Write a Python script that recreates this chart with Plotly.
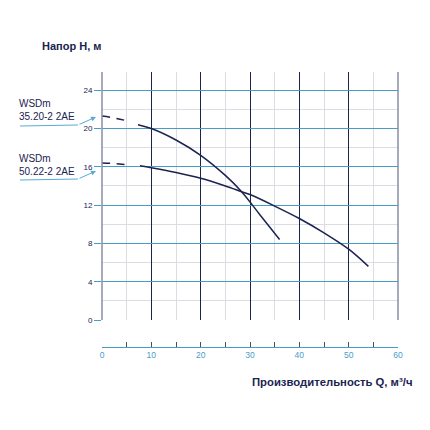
import plotly.graph_objects as go

# WSDm 35.20-2 2AE
q1_dash = [0, 2, 5.5]
h1_dash = [21.3, 21.15, 20.75]
q1 = [7.3, 10, 15, 20, 25, 28.3, 32, 36]
h1 = [20.4, 20.0, 18.8, 17.2, 15.1, 13.4, 11.0, 8.4]

# WSDm 50.22-2 2AE
q2_dash = [0, 2, 5.5]
h2_dash = [16.4, 16.35, 16.2]
q2 = [7.7, 10, 15, 20, 25, 28.3, 30, 35, 40, 45, 50, 54]
h2 = [16.1, 15.9, 15.4, 14.8, 14.0, 13.4, 13.1, 11.9, 10.6, 9.1, 7.4, 5.6]

x_ticks = [0, 5, 10, 15, 20, 25, 30, 35, 40, 45, 50, 55, 60]
x_labels = ["0", "", "10", "", "20", "", "30", "", "40", "", "50", "", "60"]
y_ticks = [0, 4, 8, 12, 16, 20, 24]

navy = "#1b2350"
blue = "#4a9cc8"
light = "#dcdce4"
arrow_blue = "#5aaad8"
font = "Liberation Sans"

fig = go.Figure()
for xs, ys, dash in [(q1_dash, h1_dash, "8px,7px"), (q1, h1, "solid"),
                     (q2_dash, h2_dash, "8px,7px"), (q2, h2, "solid")]:
    fig.add_trace(go.Scatter(x=xs, y=ys, mode="lines", line=dict(color=navy, width=1.5, dash=dash, shape="spline"),
                             showlegend=False, hoverinfo="skip"))

# invisible trace for lower axis
fig.add_trace(go.Scatter(x=[0, 60], y=[0, 0], xaxis="x2", mode="lines", line=dict(width=0),
                         showlegend=False, hoverinfo="skip"))

# page body has an 8px margin, so the figure is shifted by 8px
fig.update_layout(
    width=422, height=422,
    margin=dict(l=94, r=32, t=64, b=83),
    plot_bgcolor="white", paper_bgcolor="white",
    font=dict(family=font, color=navy),
    xaxis=dict(range=[0, 60], dtick=10, showticklabels=False, ticks="", zeroline=False,
               showgrid=True, gridcolor=navy, gridwidth=1.2,
               minor=dict(dtick=5, showgrid=True, gridcolor=light, gridwidth=1),
               showline=False, anchor="y"),
    yaxis=dict(domain=[27 / 275, 1], range=[0, 25.9], tickvals=y_ticks, zeroline=False,
               showgrid=True, gridcolor=blue, gridwidth=1.2,
               minor=dict(dtick=2, showgrid=True, gridcolor=light, gridwidth=1),
               ticks="outside", ticklen=7, tickcolor=blue, tickwidth=1,
               tickfont=dict(size=8, color=navy), showline=False),
    xaxis2=dict(range=[0, 60], anchor="free", position=0, overlaying="x",
                tickvals=x_ticks, ticktext=x_labels, ticks="inside", ticklen=5,
                tickcolor="#4a4e60", tickwidth=1, showgrid=False, zeroline=False,
                showline=True, linecolor=blue, linewidth=1.2,
                tickfont=dict(size=8.5, color=blue), side="bottom"),
    shapes=[
        dict(type="line", xref="paper", yref="paper", x0=0, x1=0, y0=27 / 275, y1=1,
             line=dict(color="#8a8ea4", width=1.5)),
        dict(type="line", xref="paper", yref="paper", x0=1, x1=1, y0=27 / 275, y1=1,
             line=dict(color="#8a8ea4", width=1.5)),
        dict(type="line", xref="paper", yref="paper", x0=(20 - 102) / 296, x1=(78 - 102) / 296,
             y0=(347 - 126) / 275, y1=(347 - 125) / 275, line=dict(color=arrow_blue, width=1)),
        dict(type="line", xref="paper", yref="paper", x0=(20 - 102) / 296, x1=(78 - 102) / 296,
             y0=(347 - 180) / 275, y1=(347 - 179) / 275, line=dict(color=arrow_blue, width=1)),
    ],
    annotations=[
        dict(text="<b>Напор Н, м</b>", xref="paper", yref="paper", x=(40 - 102) / 296, y=(347 - 38) / 275,
             xanchor="left", yanchor="top", showarrow=False, font=dict(size=11, color=navy)),
        dict(text="<b>Производительность Q, м³/ч</b>", xref="paper", yref="paper", x=(414 - 102) / 296,
             y=(347 - 374) / 275, xanchor="right", yanchor="top", showarrow=False,
             font=dict(size=11.3, color=navy)),
        dict(text="WSDm<br>35.20-2 2AE", xref="paper", yref="paper", x=(17 - 102) / 296, y=(347 - 96) / 275,
             xanchor="left", yanchor="top", align="left", showarrow=False, font=dict(size=10, color=navy)),
        dict(text="WSDm<br>50.22-2 2AE", xref="paper", yref="paper", x=(17 - 102) / 296, y=(347 - 151) / 275,
             xanchor="left", yanchor="top", align="left", showarrow=False, font=dict(size=10, color=navy)),
        dict(text="", xref="paper", yref="paper", x=(96 - 102) / 296, y=(347 - 117) / 275,
             ax=-18, ay=8, showarrow=True, arrowhead=2, arrowsize=1, arrowwidth=1, arrowcolor=arrow_blue),
        dict(text="", xref="paper", yref="paper", x=(96 - 102) / 296, y=(347 - 171) / 275,
             ax=-18, ay=8, showarrow=True, arrowhead=2, arrowsize=1, arrowwidth=1, arrowcolor=arrow_blue),
    ],
)

fig.write_html("out.html")
